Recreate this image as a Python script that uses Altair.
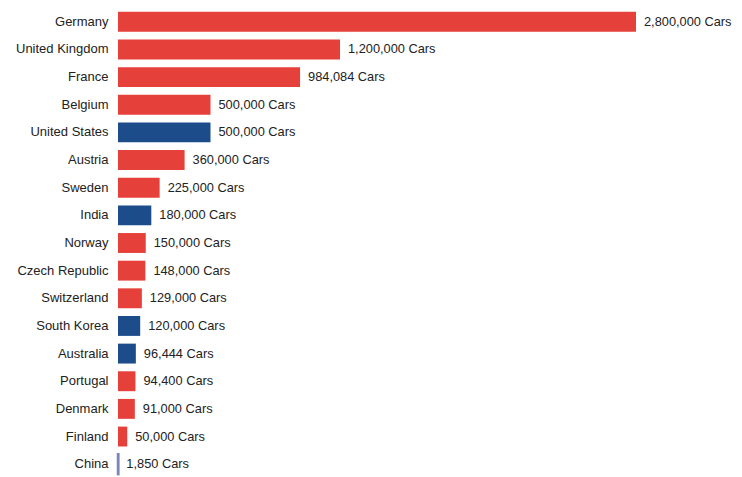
import altair as alt
import pandas as pd

countries = ["Germany", "United Kingdom", "France", "Belgium", "United States", "Austria",
             "Sweden", "India", "Norway", "Czech Republic", "Switzerland", "South Korea",
             "Australia", "Portugal", "Denmark", "Finland", "China"]
cars = [2800000, 1200000, 984084, 500000, 500000, 360000, 225000, 180000, 150000,
        148000, 129000, 120000, 96444, 94400, 91000, 50000, 1850]
group = ["eu", "eu", "eu", "eu", "other", "eu", "eu", "other", "eu", "eu", "eu",
         "other", "other", "eu", "eu", "eu", "china"]

df = pd.DataFrame({"country": countries, "cars": cars, "group": group})
df["label"] = df["cars"].map(lambda v: f"{v:,} Cars")

color_scale = alt.Scale(domain=["eu", "other", "china"],
                        range=["#E6403A", "#1D4C8A", "#7C85B8"])
color = alt.Color("group:N", legend=None, scale=color_scale)
stroke = alt.Stroke("group:N", legend=None, scale=color_scale)

y = alt.Y("country:N", sort=countries, title=None,
          scale=alt.Scale(paddingInner=0.28, paddingOuter=0.14),
          axis=alt.Axis(domain=False, ticks=False, labelPadding=10,
                        labelFont="Liberation Sans", labelFontSize=13,
                        labelColor="#222222", labelLimit=200))
x = alt.X("cars:Q", title=None, scale=alt.Scale(domain=[0, 2800000], nice=False),
          axis=None)

bars = alt.Chart(df).mark_bar().encode(
    y=y, x=x, color=color, stroke=stroke,
    strokeWidth=alt.condition("datum.group == 'china'", alt.value(2.5), alt.value(0)),
)
text = alt.Chart(df).mark_text(align="left", baseline="middle", dx=8,
                               font="Liberation Sans", fontSize=12.8,
                               color="#222222").encode(y=y, x=x, text="label:N")

chart = (bars + text).properties(
    width=518, height=470,
    autosize=alt.AutoSizeParams(type="none"),
    padding={"left": 110, "top": 0, "right": 98, "bottom": 0},
).configure_view(stroke=None)

chart.save("out.html", embed_options={"renderer": "svg", "actions": False})
